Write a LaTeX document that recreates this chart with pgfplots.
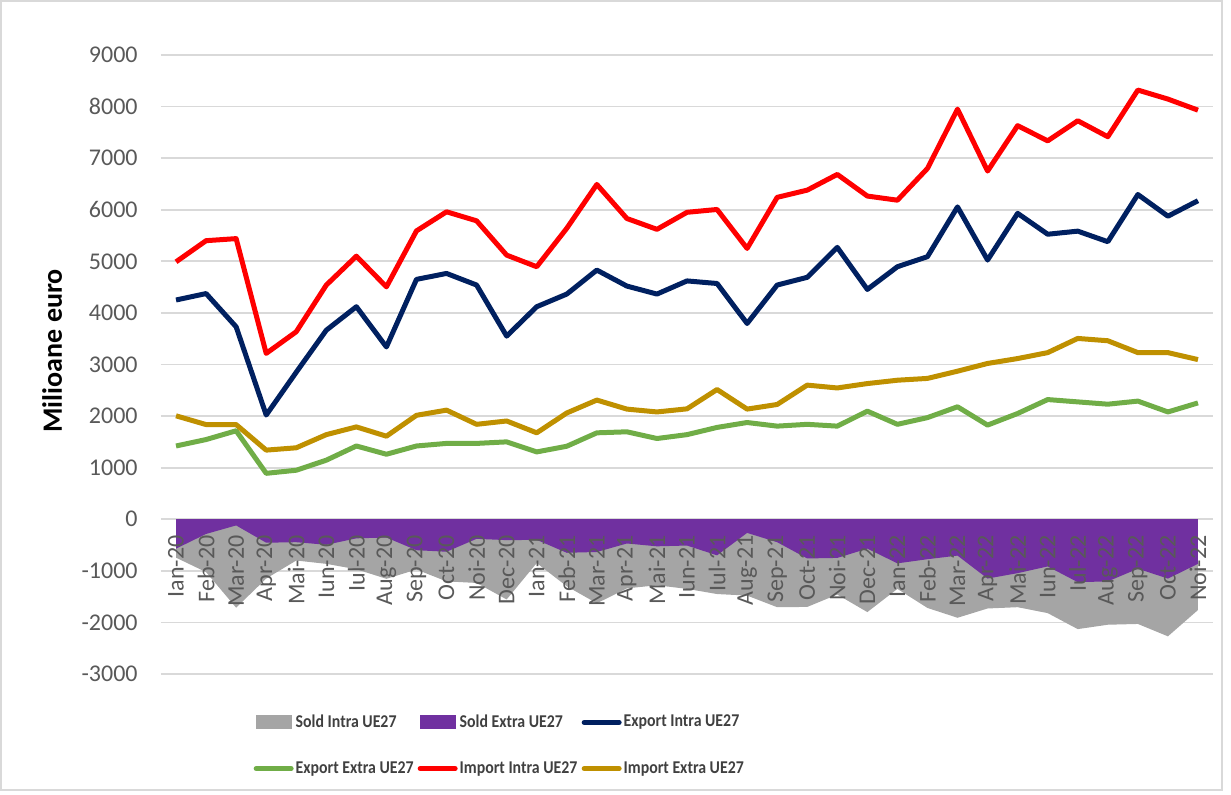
\documentclass[border=0pt]{standalone}
\usepackage{pgfplots}
\pgfplotsset{compat=1.18}
\usepackage{pgfplotstable}
\usepackage{graphicx}
\usepackage{fontspec}
\setmainfont{Carlito}
\definecolor{cNavy}{HTML}{002060}
\definecolor{cRed}{HTML}{FF0000}
\definecolor{cGreen}{HTML}{70AD47}
\definecolor{cGold}{HTML}{BF9000}
\definecolor{cPurple}{HTML}{7030A0}
\definecolor{cGray}{HTML}{A5A5A5}
\definecolor{cGrid}{HTML}{D9D9D9}
\definecolor{cTick}{HTML}{595959}
\definecolor{cLeg}{HTML}{404040}

\newcommand{\legtxt}[1]{\makebox[58pt][l]{\hspace{-1pt}\scalebox{0.88}[1]{#1}}}

\pgfplotsset{
  base/.style={
    at={(0,0)}, anchor=south west,
    scale only axis, width=526pt, height=309.5pt,
    xmin=-0.5, xmax=34.5, ymin=-3000, ymax=9000,
    axis x line*=middle, axis y line*=left,
    x axis line style={draw=none}, y axis line style={draw=none},
    hide obscured x ticks=false, hide obscured y ticks=false,
    major tick length=0pt,
    xtick={0,...,34},
    ytick={-3000,-2000,...,9000},
    /pgf/number format/assume math mode=true,
    /pgf/number format/set thousands separator={},
  },
}

\pgfplotstableread{
x EI EE II IE SI SE
0 4250 1420 4990 2005 -745 -570
1 4375 1545 5400 1835 -1025 -285
2 3730 1715 5440 1835 -1715 -120
3 2020 890 3215 1340 -1150 -455
4 2850 950 3635 1385 -800 -445
5 3665 1145 4540 1640 -865 -495
6 4120 1420 5100 1790 -970 -370
7 3340 1260 4505 1610 -1155 -355
8 4650 1420 5590 2015 -975 -600
9 4765 1470 5960 2115 -1205 -630
10 4540 1470 5785 1840 -1235 -380
11 3550 1500 5120 1905 -1555 -405
12 4120 1305 4895 1675 -850 -400
13 4365 1415 5640 2060 -1300 -650
14 4830 1675 6490 2310 -1630 -635
15 4520 1695 5830 2135 -1340 -470
16 4365 1565 5620 2080 -1280 -525
17 4620 1640 5950 2140 -1350 -510
18 4570 1780 6005 2515 -1450 -700
19 3795 1875 5250 2135 -1480 -265
20 4540 1805 6240 2225 -1705 -445
21 4690 1840 6380 2600 -1700 -760
22 5270 1805 6685 2545 -1460 -750
23 4455 2095 6265 2630 -1800 -570
24 4895 1840 6185 2695 -1350 -855
25 5090 1970 6800 2730 -1720 -775
26 6055 2180 7950 2870 -1910 -705
27 5025 1825 6750 3020 -1730 -1150
28 5930 2050 7630 3115 -1705 -1045
29 5525 2320 7335 3230 -1820 -915
30 5585 2275 7725 3505 -2130 -1220
31 5380 2230 7415 3460 -2045 -1205
32 6295 2290 8320 3230 -2030 -960
33 5875 2080 8145 3230 -2270 -1150
34 6175 2255 7930 3095 -1760 -865
}\datatable

\begin{document}
\begin{tikzpicture}
\path[use as bounding box] (-80.5pt,-60.5pt) rectangle (535pt,337pt);
\draw[cGrid, line width=0.6pt] (-80pt,-58pt) rectangle (530.5pt,336.5pt);
% layer 1: grid, areas, y tick labels, y title
\begin{axis}[base,
 xticklabels={},
 ymajorgrids, grid style={cGrid, line width=0.9pt},
 yticklabel style={font=\fontsize{12}{12}\selectfont, text=cTick, anchor=east, inner sep=0pt, xshift=-11.5pt},
 ylabel={Milioane euro},
 ylabel style={font=\fontsize{14}{14}\selectfont\bfseries, at={(axis description cs:-0.1035,0.522)}, anchor=center},
]
\addplot[fill=cGray, draw=none] table[x=x,y=SI] {\datatable} \closedcycle;
\addplot[fill=cPurple, draw=none] table[x=x,y=SE] {\datatable} \closedcycle;
\end{axis}
% layer 2: x tick labels, lines, legend
\begin{axis}[base,
 yticklabels={},
 xticklabels={Ian-20,Feb-20,Mar-20,Apr-20,Mai-20,Iun-20,Iul-20,Aug-20,Sep-20,Oct-20,Noi-20,Dec-20,Ian-21,Feb-21,Mar-21,Apr-21,Mai-21,Iun-21,Iul-21,Aug-21,Sep-21,Oct-21,Noi-21,Dec-21,Ian-22,Feb-22,Mar-22,Apr-22,Mai-22,Iun-22,Iul-22,Aug-22,Sep-22,Oct-22,Noi-22},
 xticklabel style={font=\fontsize{12}{12}\selectfont, text=cTick, yshift=-8pt, rotate=90, anchor=east, inner sep=0pt},
 legend columns=3,
 legend style={at={(axis description cs:0.082,-0.052)}, anchor=north west, draw=none, fill=none,
   font=\fontsize{9}{9}\selectfont\bfseries, text=cLeg, row sep=11.5pt,
   /tikz/every even column/.append style={column sep=0pt}},
 legend cell align=left,
]
\addplot[cNavy, line width=2.5pt, line join=round, forget plot] table[x=x,y=EI] {\datatable};
\addplot[cGreen, line width=2.5pt, line join=round, forget plot] table[x=x,y=EE] {\datatable};
\addplot[cRed, line width=2.5pt, line join=round, forget plot] table[x=x,y=II] {\datatable};
\addplot[cGold, line width=2.5pt, line join=round, forget plot] table[x=x,y=IE] {\datatable};

\addlegendimage{legend image code/.code={\fill[cGray] (0pt,-3.25pt) rectangle (17.5pt,3.25pt);}}
\addlegendentry{\legtxt{Sold Intra UE27}}
\addlegendimage{legend image code/.code={\fill[cPurple] (0pt,-3.25pt) rectangle (17.5pt,3.25pt);}}
\addlegendentry{\legtxt{Sold Extra UE27}}
\addlegendimage{legend image code/.code={\draw[cNavy, line width=2.5pt, line cap=round] (0pt,0pt) -- (17.5pt,0pt);}}
\addlegendentry{\legtxt{Export Intra UE27}}
\addlegendimage{legend image code/.code={\draw[cGreen, line width=2.5pt, line cap=round] (0pt,0pt) -- (17.5pt,0pt);}}
\addlegendentry{\legtxt{Export Extra UE27}}
\addlegendimage{legend image code/.code={\draw[cRed, line width=2.5pt, line cap=round] (0pt,0pt) -- (17.5pt,0pt);}}
\addlegendentry{\legtxt{Import Intra UE27}}
\addlegendimage{legend image code/.code={\draw[cGold, line width=2.5pt, line cap=round] (0pt,0pt) -- (17.5pt,0pt);}}
\addlegendentry{\legtxt{Import Extra UE27}}
\end{axis}
\end{tikzpicture}
\end{document}
